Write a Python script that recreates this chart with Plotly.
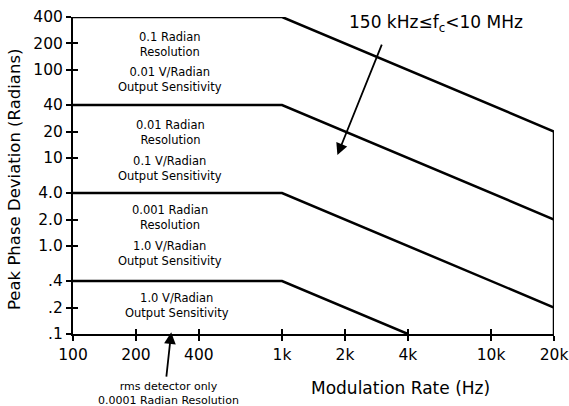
import math
import plotly.graph_objects as go

# ---- data ----
x_tickvals = [100, 200, 400, 1000, 2000, 4000, 10000, 20000]
x_ticktext = ["100", "200", "400", "1k", "2k", "4k", "10k", "20k"]
y_tickvals = [400, 200, 100, 40, 20, 10, 4, 2, 1, 0.4, 0.2, 0.1]
y_ticktext = ["400", "200", "100", "40", "20", "10", "4.0", "2.0", "1.0", ".4", ".2", ".1"]

band1_x = [100, 1000, 20000]
band1_y = [400, 400, 20]
band2_x = [100, 1000, 20000]
band2_y = [40, 40, 2]
band3_x = [100, 1000, 20000]
band3_y = [4, 4, 0.2]
band4_x = [100, 1000, 4000]
band4_y = [0.4, 0.4, 0.1]
edge_x = [20000, 20000]
edge_y = [20, 0.1]

region_labels = [
    ("0.1 Radian<br>Resolution", 44.5, 170),
    ("0.01 V/Radian<br>Output Sensitivity", 79.5, 170),
    ("0.01 Radian<br>Resolution", 132, 170),
    ("0.1 V/Radian<br>Output Sensitivity", 168, 170),
    ("0.001 Radian<br>Resolution", 217, 170),
    ("1.0 V/Radian<br>Output Sensitivity", 253, 170),
    ("1.0 V/Radian<br>Output Sensitivity", 305, 177),
]

FONT = "DejaVu Sans, Verdana, sans-serif"
W, H = 569, 406
L, R, T, B = 73, 15, 17, 72
PW, PH = W - L - R, H - T - B


def px_x(px):
    return (px - L) / PW


def px_y(py):
    return (H - B - py) / PH


fig = go.Figure()
for xs, ys in [(band1_x, band1_y), (band2_x, band2_y), (band3_x, band3_y),
               (band4_x, band4_y), (edge_x, edge_y)]:
    fig.add_trace(go.Scatter(x=xs, y=ys, mode="lines", cliponaxis=False,
                             line=dict(color="black", width=2.5),
                             hoverinfo="skip", showlegend=False))
# invisible trace for overlay axes (inside ticks)
fig.add_trace(go.Scatter(x=[100], y=[0.1], xaxis="x2", yaxis="y2", mode="markers",
                         marker=dict(opacity=0), showlegend=False, hoverinfo="skip"))

axis_common = dict(type="log", showgrid=False, zeroline=False, ticks="outside",
                   ticklen=5, tickwidth=1.5, tickcolor="black", automargin=False,
                   showline=True, linecolor="black", linewidth=2,
                   tickfont=dict(family=FONT, size=15.5, color="black"))
overlay_common = dict(type="log", showticklabels=False, ticks="inside", ticklen=5,
                      tickwidth=1.5, tickcolor="black", showgrid=False,
                      zeroline=False, showline=False, automargin=False)

fig.update_layout(
    template="none",
    width=W, height=H, autosize=False,
    margin=dict(l=L, r=R, t=T, b=B, autoexpand=False),
    plot_bgcolor="white", paper_bgcolor="white",
    xaxis=dict(**axis_common, range=[2, math.log10(20000)],
               tickvals=x_tickvals, ticktext=x_ticktext),
    yaxis=dict(**axis_common, range=[-1, math.log10(400)],
               tickvals=y_tickvals, ticktext=y_ticktext),
    xaxis2=dict(**overlay_common, overlaying="x", anchor="y2", side="bottom",
                range=[2, math.log10(20000)], tickvals=x_tickvals),
    yaxis2=dict(**overlay_common, overlaying="y", anchor="x2", side="left",
                range=[-1, math.log10(400)], tickvals=y_tickvals),
)

ann = []
for txt, py, cx in region_labels:
    ann.append(dict(text=txt, xref="paper", yref="paper", x=px_x(cx), y=px_y(py),
                    showarrow=False, font=dict(family=FONT, size=11.5, color="black"),
                    xanchor="center", yanchor="middle"))

ann.append(dict(text="rms detector only<br>0.0001 Radian Resolution", xref="paper",
                yref="paper", x=px_x(168), y=px_y(393), showarrow=False,
                font=dict(family=FONT, size=11, color="black"),
                xanchor="center", yanchor="middle"))
# arrow up to axis
ann.append(dict(text="", xref="x", yref="y", x=math.log10(295), y=math.log10(0.105),
                ax=-5, ay=46, showarrow=True, arrowhead=2, arrowsize=1.3,
                arrowwidth=1.8, arrowcolor="black"))
# top-right label + arrow
ann.append(dict(text="150 kHz≤f<sub>c</sub>&lt;10 MHz", xref="paper", yref="paper",
                x=px_x(436), y=px_y(23), showarrow=False,
                font=dict(family=FONT, size=17, color="black"),
                xanchor="center", yanchor="middle"))
ann.append(dict(text="", xref="x", yref="y", x=math.log10(1840), y=math.log10(10.8),
                ax=45, ay=-112, showarrow=True, arrowhead=2, arrowsize=1.3,
                arrowwidth=1.8, arrowcolor="black"))
# axis titles
ann.append(dict(text="Peak Phase Deviation (Radians)", xref="paper", yref="paper",
                x=px_x(14), y=px_y(180), showarrow=False, textangle=-90,
                font=dict(family=FONT, size=16.5, color="black"),
                xanchor="center", yanchor="middle"))
ann.append(dict(text="Modulation Rate (Hz)", xref="paper", yref="paper",
                x=px_x(400), y=px_y(388), showarrow=False,
                font=dict(family=FONT, size=17, color="black"),
                xanchor="center", yanchor="middle"))
fig.update_layout(annotations=ann)

fig.write_html("out.html", config={"displayModeBar": False},
               post_script="document.body.style.margin='0px';"
                           "document.body.style.overflow='hidden';")
